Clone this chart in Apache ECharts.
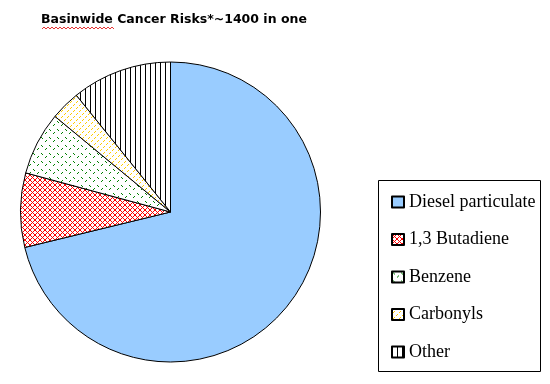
<!DOCTYPE html>
<html><head><meta charset="utf-8">
<script src="https://cdn.jsdelivr.net/npm/echarts@6/dist/echarts.min.js"></script>
<style>html,body{margin:0;padding:0;background:#fff}#c{width:550px;height:384px}</style>
</head><body><div id="c"></div>
<script>
const titleText = 'Basinwide Cancer Risks*~1400 in one';
const categories = ['Diesel particulate', '1,3 Butadiene', 'Benzene', 'Carbonyls', 'Other'];
const values = [71.2, 8.0, 6.8, 3.2, 10.8];

function pat(size, draw) {
  const c = document.createElement('canvas');
  c.width = size; c.height = size;
  const g = c.getContext('2d');
  g.fillStyle = '#fff'; g.fillRect(0, 0, size, size);
  draw(g, size);
  return { image: c, repeat: 'repeat' };
}
function px(g, x, y, col) { g.fillStyle = col; g.fillRect(x, y, 1, 1); }

const fills = [
  '#99CCFF',
  pat(5, (g, s) => { for (let i = 0; i < s; i++) { px(g, i, i, '#FF0000'); px(g, s - 1 - i, i, '#FF0000'); } }),
  pat(8, (g) => { px(g, 1, 1, '#008000'); px(g, 2, 2, '#008000'); px(g, 5, 5, '#008000'); px(g, 6, 4, '#008000'); }),
  pat(6, (g) => { px(g, 1, 3, '#FFCC00'); px(g, 2, 2, '#FFCC00'); px(g, 4, 0, '#FFCC00'); px(g, 5, 5, '#FFCC00'); }),
  pat(5, (g, s) => { g.fillStyle = '#000'; g.fillRect(0, 0, 1, s); })
];

const chart = echarts.init(document.getElementById('c'), null, { renderer: 'canvas' });
chart.setOption({
  animation: false,
  title: {
    text: titleText, left: 41, top: 13, padding: 0,
    textStyle: { fontFamily: 'DejaVu Sans', fontWeight: 'bold', fontSize: 12.5, color: '#000' }
  },
  legend: {
    orient: 'vertical', left: 391, top: 193, itemWidth: 12, itemHeight: 11, itemGap: 19.5,
    icon: 'rect', selectedMode: false, padding: 0,
    textStyle: { fontFamily: 'Liberation Serif', fontSize: 18, color: '#000' },
    data: categories
  },
  graphic: [
    { type: 'rect', shape: { x: 378.5, y: 180.5, width: 162, height: 191 }, style: { fill: 'none', stroke: '#000', lineWidth: 1 }, silent: true },
    { type: 'polyline', shape: { points: [[42,29],[44,27],[46,29],[48,27],[50,29],[52,27],[54,29],[56,27],[58,29],[60,27],[62,29],[64,27],[66,29],[68,27],[70,29],[72,27],[74,29],[76,27],[78,29],[80,27],[82,29],[84,27],[86,29],[88,27],[90,29],[92,27],[94,29],[96,27],[98,29],[100,27],[102,29],[104,27],[106,29],[108,27],[110,29],[112,27],[114,29]] }, style: { stroke: '#E00000', lineWidth: 0.8, fill: 'none' }, silent: true }
  ],
  series: [{
    type: 'pie', center: [170.5, 212], radius: 150, startAngle: 90, clockwise: true,
    label: { show: false }, labelLine: { show: false }, silent: true,
    itemStyle: { borderColor: '#000', borderWidth: 1 },
    data: categories.map((n, i) => ({ name: n, value: values[i], itemStyle: { color: fills[i] } }))
  }]
});
</script></body></html>
